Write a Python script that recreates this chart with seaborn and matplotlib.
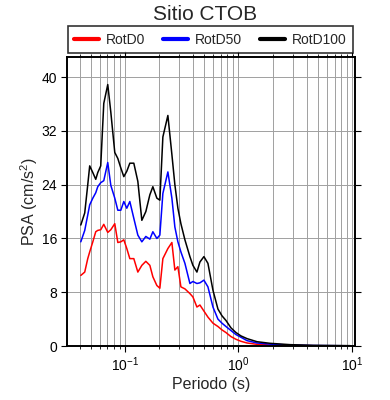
import numpy as np
import pandas as pd
import matplotlib
matplotlib.use("Agg")
import matplotlib.pyplot as plt
import seaborn as sns
from matplotlib.ticker import LogLocator, FixedLocator

periods = [0.041, 0.0444, 0.0472, 0.0491, 0.0523, 0.0555, 0.0578, 0.0614, 0.0653,
           0.0708, 0.0753, 0.0816, 0.0868, 0.0922, 0.098, 0.1041, 0.1107, 0.12,
           0.1302, 0.1412, 0.1531, 0.1661, 0.1765, 0.1914, 0.2034, 0.2162, 0.2393,
           0.2595, 0.2757, 0.2931, 0.3115, 0.3379, 0.3739, 0.3973, 0.4309, 0.458,
           0.4966, 0.5386, 0.5963, 0.6597, 0.7155, 0.7761, 0.859, 0.9506, 1.052,
           1.188, 1.455, 1.895, 2.843, 4.535, 9.6]

rotd100 = [18.0, 19.8, 24.0, 26.8, 25.8, 24.8, 25.8, 26.8, 36.1, 38.9, 34.8, 28.8,
           27.9, 26.5, 25.2, 26.0, 27.2, 27.2, 24.5, 18.7, 20.0, 22.5, 23.7, 22.0,
           21.7, 31.1, 34.3, 28.5, 24.0, 20.5, 18.2, 15.8, 13.3, 12.0, 11.0, 12.5,
           13.3, 12.3, 8.3, 5.5, 4.5, 3.8, 2.7, 2.0, 1.5, 1.1, 0.64, 0.4, 0.2, 0.1, 0.05]

rotd50 = [15.5, 17.2, 19.5, 21.0, 22.0, 22.8, 23.7, 24.3, 24.6, 27.3, 23.9, 22.0,
          20.2, 20.2, 21.5, 20.5, 21.5, 19.0, 16.5, 15.5, 16.3, 15.9, 17.0, 16.0,
          16.5, 22.7, 25.9, 22.0, 17.7, 15.5, 14.0, 12.3, 9.3, 9.6, 9.3, 9.4,
          9.8, 8.8, 5.8, 4.0, 3.4, 2.9, 2.3, 1.7, 1.3, 0.8, 0.45, 0.28, 0.14, 0.07, 0.03]

rotd0 = [10.5, 11.0, 13.0, 14.0, 15.5, 17.0, 17.2, 17.3, 18.1, 16.9, 17.3, 18.2,
         15.4, 15.5, 15.8, 14.5, 13.0, 13.0, 11.0, 12.0, 12.6, 12.0, 10.3, 9.0,
         8.6, 13.0, 14.5, 15.4, 11.3, 11.8, 8.8, 8.5, 7.8, 7.3, 5.8, 6.1,
         5.2, 4.3, 3.4, 2.9, 2.4, 2.0, 1.4, 1.0, 0.7, 0.45, 0.25, 0.15, 0.08, 0.04, 0.02]

series_names = ["RotD0", "RotD50", "RotD100"]
series_colors = ["#ff0000", "#0000ff", "#000000"]
y_ticks = [0, 8, 16, 24, 32, 40]

df = pd.concat([
    pd.DataFrame({"T": periods, "PSA": vals, "comp": name})
    for name, vals in zip(series_names, [rotd0, rotd50, rotd100])
], ignore_index=True)

sns.set_theme(style="ticks")
plt.rcParams["font.family"] = ["Liberation Sans", "DejaVu Sans"]
plt.rcParams["mathtext.fontset"] = "custom"
plt.rcParams["mathtext.rm"] = "Liberation Sans"
plt.rcParams["mathtext.it"] = "Liberation Sans:italic"

fig = plt.figure(figsize=(3.9, 4.0), dpi=100)
ax = fig.add_axes([67/390, 1-346/400, (355-67)/390, (346-57)/400])

sns.lineplot(data=df, x="T", y="PSA", hue="comp", palette=dict(zip(series_names, series_colors)),
             hue_order=series_names, linewidth=1.1, ax=ax, estimator=None, sort=False)

ax.set_xscale("log")
ax.set_xlim(0.031, 10.6)
ax.set_ylim(0, 43)
ax.yaxis.set_major_locator(FixedLocator(y_ticks))
ax.xaxis.set_major_locator(LogLocator(base=10))
ax.xaxis.set_minor_locator(LogLocator(base=10, subs=np.arange(2, 10)))

ax.grid(True, which="major", axis="both", color="#a0a0a0", linewidth=0.7)
ax.grid(True, which="minor", axis="x", color="#a0a0a0", linewidth=0.7)
ax.set_axisbelow(True)

for s in ax.spines.values():
    s.set_linewidth(1.4)
    s.set_color("black")

ax.tick_params(axis="both", which="major", direction="out", length=4, width=0.8,
               labelsize=10, top=True, right=True, colors="black", pad=3)
ax.tick_params(axis="x", which="minor", direction="out", length=2.5, width=0.7,
               top=True, bottom=True)

ax.set_xlabel("Periodo (s)", fontsize=11.5, labelpad=2)
ax.set_ylabel("PSA (cm/s$^2$)", fontsize=11.5, labelpad=1)

handles, labels = ax.get_legend_handles_labels()
ax.get_legend().remove()
for h in handles:
    h.set_linewidth(3)
leg = fig.legend(handles, labels, loc="center", bbox_to_anchor=(210.5/390, 1-39.5/400),
                 ncol=3, fontsize=10, frameon=True, fancybox=False, handlelength=1.8,
                 handletextpad=0.5, columnspacing=1.3, borderpad=0.45, borderaxespad=0)
leg.get_frame().set_edgecolor("black")
leg.get_frame().set_linewidth(1.2)

fig.text(205/390, 1-14.5/400, "Sitio CTOB", ha="center", va="center", fontsize=15)

fig.savefig("out.png", dpi=100)
